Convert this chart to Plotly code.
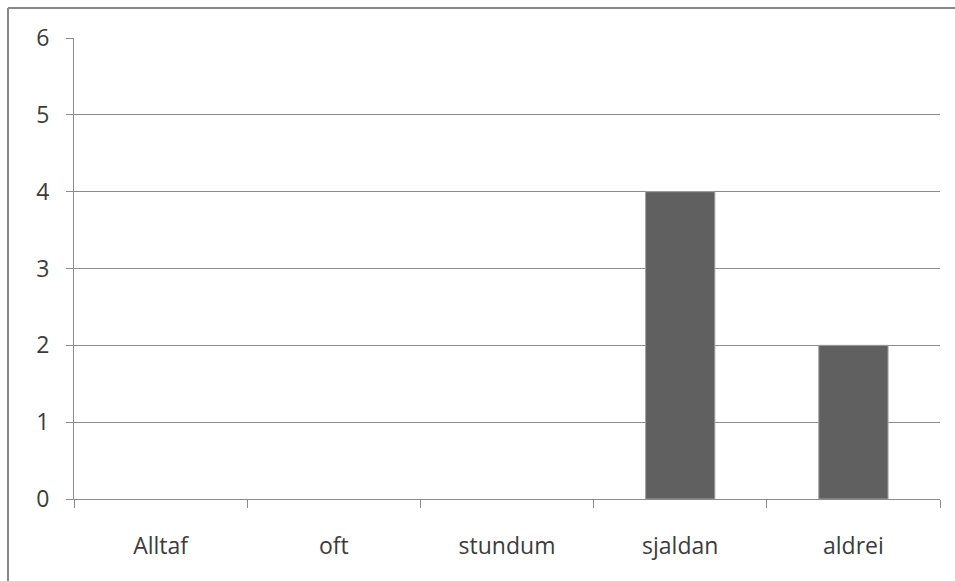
import plotly.graph_objects as go

categories = ["Alltaf", "oft", "stundum", "sjaldan", "aldrei"]
counts = [0, 0, 0, 4, 2]
y_ticks = [0, 1, 2, 3, 4, 5, 6]

W, H = 955, 581
L, R, T, B = 74, 15, 38, 82
pw, ph = W - L - R, H - T - B

fig = go.Figure(
    go.Bar(
        x=categories,
        y=counts,
        width=0.4,
        marker=dict(
            color="#606060",
            line=dict(color="#a0a0a0", width=[1 if v > 0 else 0 for v in counts]),
        ),
    )
)

axis_grey = "#8c8c8c"
font = dict(family="Open Sans, Liberation Sans, sans-serif", size=23, color="#3c3c3c")

fig.update_layout(
    width=W,
    height=H,
    margin=dict(l=L, r=R, t=T, b=B),
    paper_bgcolor="white",
    plot_bgcolor="white",
    showlegend=False,
    font=font,
    bargap=0.6,
)

fig.update_xaxes(
    type="category",
    showline=True,
    linecolor=axis_grey,
    linewidth=1,
    showgrid=False,
    ticks="outside",
    tickson="boundaries",
    ticklen=8,
    tickcolor=axis_grey,
    tickfont=font,
    ticklabelstandoff=26,
)

fig.update_yaxes(
    range=[0, 6],
    tickvals=y_ticks,
    showline=True,
    linecolor=axis_grey,
    linewidth=1,
    showgrid=True,
    gridcolor=axis_grey,
    gridwidth=1,
    ticks="outside",
    ticklen=7,
    tickcolor=axis_grey,
    tickfont=font,
    ticklabelstandoff=12,
    zeroline=False,
)

# outer chart frame (left and top edges visible)
fx0 = (8 - L) / pw
fy1 = 1 + (T - 8) / ph
fig.add_shape(type="line", xref="paper", yref="paper", x0=fx0, x1=fx0, y0=-1, y1=fy1,
              line=dict(color="#888888", width=2))
fig.add_shape(type="line", xref="paper", yref="paper", x0=fx0, x1=2, y0=fy1, y1=fy1,
              line=dict(color="#888888", width=2))

fig.write_html("out.html")
